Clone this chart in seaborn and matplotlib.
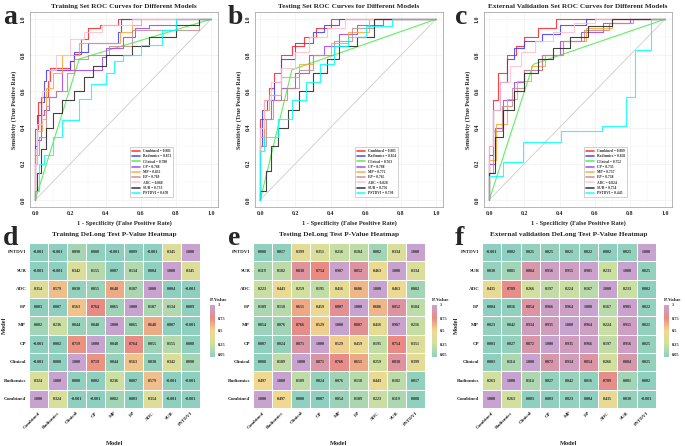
import numpy as np
import pandas as pd
import matplotlib
matplotlib.use("Agg")
import matplotlib.pyplot as plt
import seaborn as sns
from matplotlib.colors import LinearSegmentedColormap

sns.set_theme(style="white")
plt.rcParams['font.family'] = ['Liberation Serif', 'DejaVu Serif']
plt.rcParams['font.weight'] = 'bold'

MODELS = ["Combined", "Radiomics", "Clinical", "CP", "MP", "EP", "ADC", "SUR", "PSTDVI"]
COLORS = ["#ff2020", "#3a3aff", "#44ee44", "#a040e0", "#ffa530", "#c48a8a", "#ffc0cb", "#222222", "#00ffff"]

# ---- ROC data (fpr, tpr) ----
TRAIN_AUC = [0.881, 0.872, 0.780, 0.788, 0.832, 0.789, 0.860, 0.733, 0.670]
TEST_AUC = [0.885, 0.854, 0.763, 0.788, 0.772, 0.765, 0.828, 0.756, 0.730]
EXT_AUC = [0.889, 0.858, 0.752, 0.735, 0.737, 0.738, 0.824, 0.754, 0.445]

TRAIN_ROC = {
    "Combined": ([0, 0.015, 0.03, 0.07, 0.085, 0.12, 0.2, 0.22, 0.26, 0.30, 0.37, 0.47, 0.57, 1],
                 [0, 0.39, 0.54, 0.57, 0.66, 0.73, 0.73, 0.77, 0.81, 0.89, 0.95, 0.97, 1.0, 1]),
    "Radiomics": ([0, 0.01, 0.03, 0.05, 0.06, 0.10, 0.2, 0.22, 0.30, 0.47, 0.49, 0.55, 1],
                  [0, 0.30, 0.47, 0.54, 0.66, 0.72, 0.72, 0.77, 0.82, 0.87, 0.93, 1.0, 1]),
    "Clinical": ([0, 0.25, 1], [0, 0.78, 1]),
    "CP": ([0, 0.01, 0.03, 0.05, 0.08, 0.12, 0.15, 0.2, 0.38, 0.4, 0.5, 0.57, 0.65, 0.8, 1],
           [0, 0.2, 0.33, 0.47, 0.5, 0.57, 0.6, 0.72, 0.72, 0.79, 0.84, 0.9, 0.95, 0.97, 1]),
    "MP": ([0, 0.01, 0.04, 0.06, 0.1, 0.15, 0.25, 0.35, 0.48, 0.55, 0.6, 0.78, 1],
           [0, 0.28, 0.38, 0.45, 0.62, 0.7, 0.8, 0.87, 0.87, 0.93, 0.97, 1, 1]),
    "EP": ([0, 0.0, 0.02, 0.06, 0.08, 0.12, 0.18, 0.22, 0.3, 0.42, 0.55, 0.72, 0.93, 0.97, 1],
           [0, 0.1, 0.25, 0.35, 0.52, 0.57, 0.6, 0.7, 0.78, 0.8, 0.85, 0.94, 0.94, 1, 1]),
    "ADC": ([0, 0.01, 0.04, 0.08, 0.12, 0.2, 0.28, 0.38, 0.55, 0.7, 1],
            [0, 0.2, 0.42, 0.6, 0.72, 0.8, 0.89, 0.93, 0.97, 1, 1]),
    "SUR": ([0, 0.01, 0.03, 0.06, 0.1, 0.15, 0.22, 0.28, 0.33, 0.4, 0.55, 0.65, 0.8, 0.93, 1],
            [0, 0.05, 0.15, 0.28, 0.4, 0.48, 0.55, 0.6, 0.68, 0.74, 0.8, 0.85, 0.9, 0.97, 1]),
    "PSTDVI": ([0, 0.02, 0.05, 0.1, 0.15, 0.25, 0.32, 0.4, 0.45, 0.5, 0.6, 0.72, 0.8, 0.88, 1],
               [0, 0.05, 0.2, 0.25, 0.35, 0.44, 0.56, 0.64, 0.7, 0.77, 0.8, 0.86, 0.94, 1.0, 1]),
}
TEST_ROC = {
    "Combined": ([0, 0.0, 0.02, 0.05, 0.08, 0.12, 0.18, 0.25, 0.32, 0.4, 0.5, 1],
                 [0, 0.2, 0.45, 0.55, 0.62, 0.7, 0.8, 0.85, 0.9, 0.95, 1, 1]),
    "Radiomics": ([0, 0.01, 0.04, 0.08, 0.12, 0.2, 0.3, 0.36, 0.45, 0.55, 1],
                  [0, 0.3, 0.5, 0.55, 0.65, 0.78, 0.87, 0.93, 0.97, 1, 1]),
    "Clinical": ([0, 0.18, 1], [0, 0.72, 1]),
    "CP": ([0, 0.02, 0.06, 0.12, 0.2, 0.28, 0.36, 0.45, 0.55, 0.7, 0.85, 1],
           [0, 0.3, 0.45, 0.55, 0.62, 0.7, 0.8, 0.85, 0.92, 0.97, 1, 1]),
    "MP": ([0, 0.02, 0.05, 0.12, 0.22, 0.3, 0.4, 0.5, 0.62, 0.75, 1],
           [0, 0.35, 0.5, 0.58, 0.68, 0.75, 0.8, 0.87, 0.93, 1, 1]),
    "EP": ([0, 0.03, 0.07, 0.15, 0.22, 0.3, 0.42, 0.52, 0.65, 0.8, 1],
           [0, 0.3, 0.45, 0.55, 0.62, 0.72, 0.8, 0.88, 0.95, 1, 1]),
    "ADC": ([0, 0.02, 0.06, 0.12, 0.2, 0.28, 0.38, 0.48, 0.6, 1],
            [0, 0.4, 0.55, 0.65, 0.73, 0.82, 0.9, 0.95, 1, 1]),
    "SUR": ([0, 0.03, 0.06, 0.1, 0.16, 0.22, 0.3, 0.38, 0.45, 0.55, 0.65, 0.8, 1],
            [0, 0.05, 0.16, 0.3, 0.4, 0.5, 0.6, 0.7, 0.78, 0.85, 0.9, 1, 1]),
    "PSTDVI": ([0, 0.02, 0.1, 0.18, 0.26, 0.34, 0.42, 0.5, 0.6, 0.75, 0.9, 1],
               [0, 0.27, 0.35, 0.45, 0.55, 0.65, 0.75, 0.85, 0.9, 0.96, 1, 1]),
}
EXT_ROC = {
    "Combined": ([0, 0.02, 0.05, 0.1, 0.15, 0.2, 0.28, 0.38, 0.5, 1],
                 [0, 0.3, 0.55, 0.7, 0.8, 0.85, 0.9, 0.95, 1, 1]),
    "Radiomics": ([0, 0.02, 0.06, 0.1, 0.14, 0.2, 0.3, 0.4, 0.55, 0.65, 1],
                  [0, 0.25, 0.5, 0.65, 0.78, 0.84, 0.88, 0.92, 0.97, 1, 1]),
    "Clinical": ([0, 0.25, 1], [0, 0.75, 1]),
    "CP": ([0, 0.03, 0.08, 0.14, 0.2, 0.3, 0.4, 0.52, 0.65, 0.8, 1],
           [0, 0.2, 0.4, 0.55, 0.65, 0.72, 0.8, 0.88, 0.93, 0.98, 1]),
    "MP": ([0, 0.04, 0.1, 0.16, 0.24, 0.32, 0.42, 0.55, 0.7, 0.85, 1],
           [0, 0.22, 0.42, 0.56, 0.66, 0.74, 0.8, 0.88, 0.95, 1, 1]),
    "EP": ([0, 0.02, 0.07, 0.13, 0.2, 0.3, 0.42, 0.54, 0.68, 0.82, 1],
           [0, 0.15, 0.38, 0.52, 0.62, 0.72, 0.8, 0.88, 0.94, 0.98, 1]),
    "ADC": ([0, 0.02, 0.06, 0.12, 0.18, 0.26, 0.36, 0.48, 0.6, 0.72, 1],
            [0, 0.3, 0.5, 0.65, 0.74, 0.82, 0.88, 0.93, 0.98, 1, 1]),
    "SUR": ([0, 0.03, 0.08, 0.14, 0.2, 0.28, 0.36, 0.46, 0.56, 0.7, 0.85, 1],
            [0, 0.15, 0.35, 0.5, 0.6, 0.7, 0.78, 0.84, 0.9, 0.96, 1, 1]),
    "PSTDVI": ([0, 0.08, 0.19, 0.41, 0.64, 0.78, 0.83, 0.92, 1],
               [0, 0.13, 0.21, 0.32, 0.38, 0.41, 0.57, 0.83, 1]),
}

# ---- DeLong p-values (rows/cols in MODELS order; 0.0005 means <0.001) ----
TRAIN_P = [
    [1.000, 0.324, 0.0005, 0.0005, 0.082, 0.003, 0.354, 0.0005, 0.0005],
    [0.324, 1.000, 0.008, 0.002, 0.236, 0.007, 0.579, 0.0005, 0.0005],
    [0.0005, 0.008, 1.000, 0.719, 0.044, 0.563, 0.030, 0.342, 0.090],
    [0.0005, 0.002, 0.719, 1.000, 0.048, 0.764, 0.055, 0.155, 0.008],
    [0.082, 0.236, 0.044, 0.048, 1.000, 0.065, 0.648, 0.007, 0.0005],
    [0.003, 0.007, 0.563, 0.764, 0.065, 1.000, 0.107, 0.134, 0.009],
    [0.354, 0.579, 0.030, 0.055, 0.648, 0.107, 1.000, 0.004, 0.0005],
    [0.0005, 0.0005, 0.342, 0.155, 0.007, 0.134, 0.004, 1.000, 0.345],
    [0.0005, 0.0005, 0.090, 0.008, 0.0005, 0.009, 0.0005, 0.345, 1.000],
]
TEST_P = [
    [1.000, 0.497, 0.008, 0.007, 0.054, 0.109, 0.223, 0.119, 0.008],
    [0.497, 1.000, 0.189, 0.024, 0.076, 0.158, 0.443, 0.182, 0.017],
    [0.008, 0.189, 1.000, 0.871, 0.766, 0.651, 0.259, 0.838, 0.399],
    [0.007, 0.024, 0.871, 1.000, 0.529, 0.459, 0.195, 0.754, 0.351],
    [0.054, 0.076, 0.766, 0.529, 1.000, 0.807, 0.416, 0.987, 0.216],
    [0.109, 0.158, 0.651, 0.459, 0.807, 1.000, 0.606, 0.852, 0.184],
    [0.223, 0.443, 0.259, 0.195, 0.416, 0.606, 1.000, 0.463, 0.082],
    [0.119, 0.182, 0.838, 0.754, 0.987, 0.852, 0.463, 1.000, 0.334],
    [0.008, 0.017, 0.399, 0.351, 0.216, 0.184, 0.082, 0.334, 1.000],
]
EXT_P = [
    [1.000, 0.263, 0.003, 0.003, 0.023, 0.004, 0.435, 0.030, 0.0005],
    [0.263, 1.000, 0.114, 0.027, 0.042, 0.016, 0.789, 0.081, 0.002],
    [0.003, 0.114, 1.000, 0.872, 0.934, 0.854, 0.266, 0.884, 0.025],
    [0.003, 0.027, 0.872, 1.000, 0.935, 0.966, 0.197, 0.956, 0.025],
    [0.023, 0.042, 0.934, 0.935, 1.000, 0.964, 0.224, 0.955, 0.021],
    [0.004, 0.016, 0.854, 0.966, 0.964, 1.000, 0.167, 0.985, 0.022],
    [0.435, 0.789, 0.266, 0.197, 0.224, 0.167, 1.000, 0.233, 0.002],
    [0.030, 0.081, 0.884, 0.956, 0.955, 0.985, 0.233, 1.000, 0.025],
    [0.0005, 0.002, 0.025, 0.025, 0.021, 0.022, 0.002, 0.025, 1.000],
]

W, H = 685, 446
fig = plt.figure(figsize=(W / 100, H / 100), dpi=100)


def rect(x0, y0, x1, y1):
    return [x0 / W, 1 - y1 / H, (x1 - x0) / W, (y1 - y0) / H]


def roc_panel(box, roc, aucs, title):
    ax = fig.add_axes(rect(*box))
    ax.plot([0, 1], [0, 1], color="#cccccc", lw=0.6, zorder=1)
    for m, c, a in zip(MODELS, COLORS, aucs):
        fpr, tpr = roc[m]
        ds = "default" if m == "Clinical" else "steps-pre"
        sns.lineplot(x=fpr, y=tpr, ax=ax, color=c, lw=0.8, alpha=0.85,
                     estimator=None, sort=False, drawstyle=ds,
                     label=f"{m} = {a:.3f}")
    ax.set_xlim(-0.03, 1.04)
    ax.set_ylim(-0.04, 1.04)
    ticks = [0, 0.2, 0.4, 0.6, 0.8, 1.0]
    ax.set_xticks(ticks)
    ax.set_yticks(ticks)
    ax.set_xticklabels([f"{t:.1f}" for t in ticks], fontsize=4.2)
    ax.set_yticklabels([f"{t:.1f}" for t in ticks], fontsize=4.2, rotation=90, va="center")
    ax.tick_params(length=1.5, width=0.4, pad=1.5, color="#555555")
    ax.grid(True, color="#ececec", lw=0.4)
    ax.set_xticks([0.1, 0.3, 0.5, 0.7, 0.9], minor=True)
    ax.set_yticks([0.1, 0.3, 0.5, 0.7, 0.9], minor=True)
    ax.tick_params(which="minor", length=0)
    ax.grid(True, which="minor", color="#f4f4f4", lw=0.3)
    for s in ax.spines.values():
        s.set_color("#999999")
        s.set_linewidth(0.5)
    ax.set_title(title, fontsize=5.2, fontweight="bold", pad=3)
    ax.set_xlabel("1 - Specificity (False Positive Rate)", fontsize=4.6, fontweight="bold", labelpad=3)
    ax.set_ylabel("Sensitivity (True Positive Rate)", fontsize=4.2, fontweight="bold", labelpad=3)
    leg = ax.legend(loc="lower right", bbox_to_anchor=(0.77, 0.04), fontsize=2.6,
                    frameon=True, fancybox=False, handlelength=2.2, labelspacing=0.35,
                    borderpad=0.6, handletextpad=0.8)
    leg.get_frame().set_edgecolor("#999999")
    leg.get_frame().set_linewidth(0.4)
    for ln in leg.get_lines():
        ln.set_linewidth(1.2)
    return ax


roc_panel((30, 12, 218, 207), TRAIN_ROC, TRAIN_AUC, "Training Set ROC Curves for Different Models")
roc_panel((255, 12, 443, 207), TEST_ROC, TEST_AUC, "Testing Set ROC Curves for Different Models")
roc_panel((484, 12, 672, 207), EXT_ROC, EXT_AUC, "External Validation Set ROC Curves for Different Models")

cmap = LinearSegmentedColormap.from_list(
    "pv", [(0.0, "#8ecfc0"), (0.25, "#cfe0a0"), (0.5, "#f1d890"),
           (0.75, "#ea8a80"), (1.0, "#c8a3d0")])


def heat_panel(box, cbox, pmat, title, ylab=True):
    ax = fig.add_axes(rect(*box))
    cax = fig.add_axes(rect(*cbox))
    df = pd.DataFrame(pmat, index=MODELS, columns=MODELS).iloc[::-1]
    labels = df.map(lambda v: "<0.001" if v < 0.001 else f"{v:.3f}")
    sns.heatmap(df, ax=ax, cbar_ax=cax, cmap=cmap, vmin=0, vmax=1,
                annot=labels.values, fmt="", linewidths=0.6, linecolor="white",
                annot_kws={"fontsize": 2.9, "fontweight": "bold", "color": "#222222"},
                cbar_kws={"ticks": [0.05, 0.25, 0.5, 0.75, 1]})
    ax.set_xticklabels(df.columns, rotation=45, ha="right", rotation_mode="anchor", fontsize=3.6)
    ax.set_yticklabels(df.index, rotation=0, fontsize=3.6)
    ax.tick_params(length=0, pad=2)
    ax.set_title(title, fontsize=5.2, fontweight="bold", pad=5)
    ax.set_xlabel("Model", fontsize=4.6, fontweight="bold", labelpad=8)
    if ylab:
        ax.set_ylabel("Model", fontsize=4.6, fontweight="bold")
        ax.yaxis.set_label_coords(-0.13, 0.5)
    else:
        ax.set_ylabel("")
    cax.set_yticklabels(["0.05", "0.25", "0.5", "0.75", "1"], fontsize=3.2)
    cax.tick_params(length=0, pad=2)
    cax.set_title("P-Value", fontsize=3.8, fontweight="bold", pad=3, loc="left")
    for s in cax.spines.values():
        s.set_visible(False)
    return ax


heat_panel((29, 243, 200, 408), (210, 305, 215, 357), TRAIN_P, "Training DeLong Test P-Value Heatmap")
heat_panel((253, 243, 425, 408), (432, 305, 437, 357), TEST_P, "Testing DeLong Test P-Value Heatmap", ylab=False)
heat_panel((482, 243, 656, 408), (664, 305, 669, 357), EXT_P, "External validation DeLong Test P-Value Heatmap")

for letter, x, y in [("a", 3, 24), ("b", 228, 24), ("c", 455, 24),
                     ("d", 3, 245), ("e", 228, 245), ("f", 455, 245)]:
    fig.text(x / W, 1 - y / H, letter, fontsize=20, fontweight="bold", ha="left", va="baseline")

fig.savefig("out.png", dpi=100, facecolor="white")
